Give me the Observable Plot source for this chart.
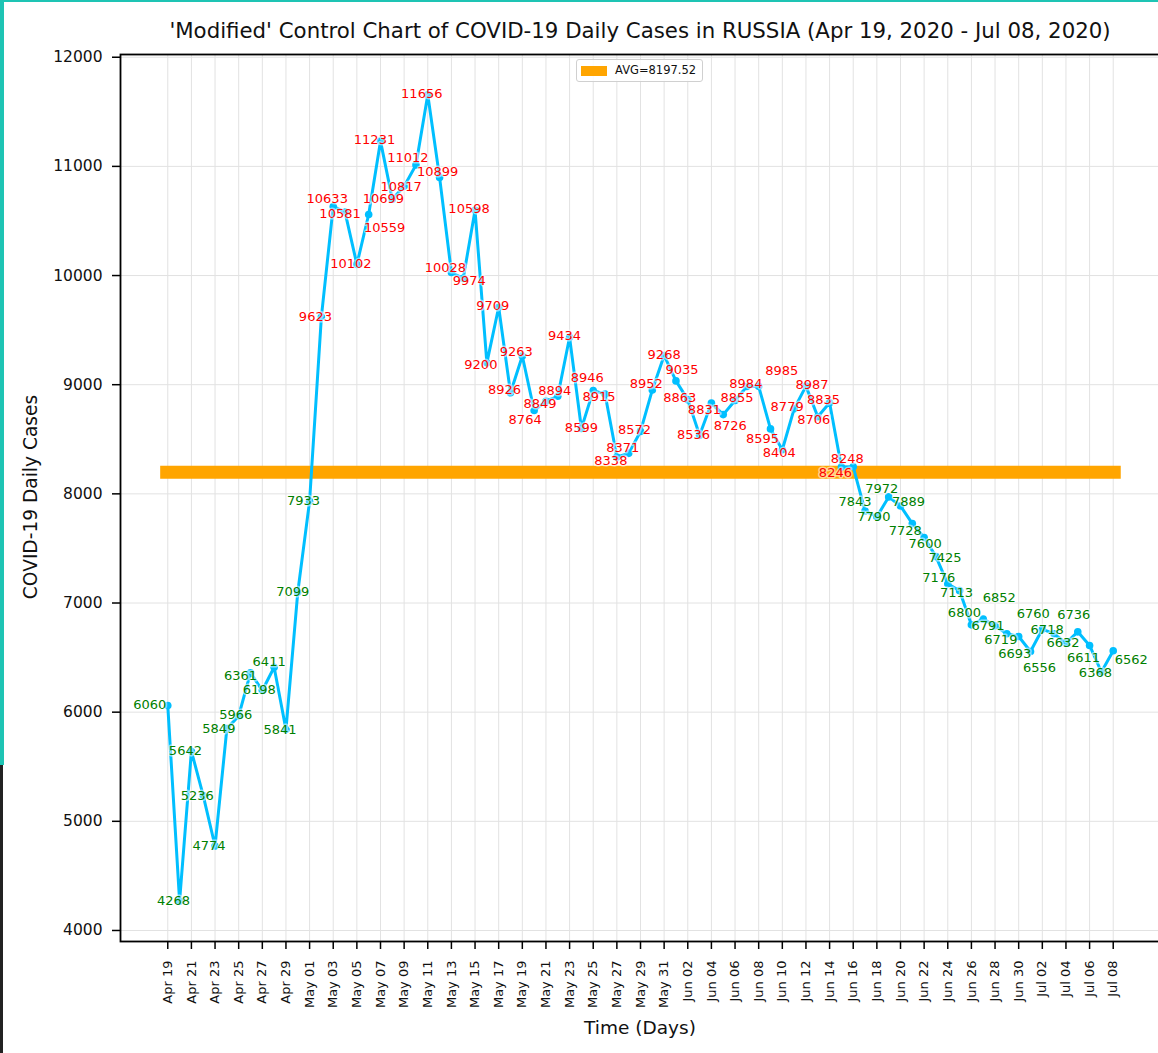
<!DOCTYPE html>
<html>
<head>
<meta charset="utf-8">
<script src="https://cdn.jsdelivr.net/npm/d3@7"></script>
<script src="https://cdn.jsdelivr.net/npm/@observablehq/plot@0.6"></script>
<style>
  html, body { margin: 0; padding: 0; background: #fff; }
  #wrap { position: relative; width: 1158px; height: 1053px; overflow: hidden; font-family: "DejaVu Sans", sans-serif; color: #111; }
  #title { position: absolute; left: 120px; width: 1040px; top: 18px; height: 26px; line-height: 26px; text-align: center; font-size: 21.3px; white-space: nowrap; }
  #chart { position: absolute; left: 0; top: 44px; }
  #ylabel { position: absolute; left: -169px; width: 400px; top: 486px; height: 22px; line-height: 22px; text-align: center; font-size: 18.6px; transform: rotate(-90deg); }
  #xlabel { position: absolute; left: 140px; width: 1000px; top: 1017px; height: 22px; line-height: 22px; text-align: center; font-size: 18.5px; }
  #legend { position: absolute; left: 576px; top: 59px; width: 125px; height: 21px; border: 1px solid #d0d0d0; border-radius: 3px; background: rgba(255,255,255,0.85); box-sizing: content-box; }
  #legend .sw { position: absolute; left: 4px; top: 6px; width: 26px; height: 10px; background: orange; }
  #legend .lt { position: absolute; left: 38px; top: 0; height: 21px; line-height: 21px; font-size: 11.5px; white-space: nowrap; }
  .edgeL1 { position: absolute; left: 0; top: 0; width: 4px; height: 765px; background: #1ec4b4; }
  .edgeL2 { position: absolute; left: 0; top: 765px; width: 3px; height: 288px; background: #222; }
  .edgeT { position: absolute; left: 0; top: 0; width: 1158px; height: 2px; background: #1ec4b4; }
</style>
</head>
<body>
<div id="wrap">
  <div id="title">'Modified' Control Chart of COVID-19 Daily Cases in RUSSIA (Apr 19, 2020 - Jul 08, 2020)</div>
  <div id="chart"></div>
  <div id="ylabel">COVID-19 Daily Cases</div>
  <div id="xlabel">Time (Days)</div>
  <div id="legend"><div class="sw"></div><div class="lt"></div></div>
  <div class="edgeL1"></div><div class="edgeL2"></div><div class="edgeT"></div>
</div>
<script>
// ---- data ----
const startDate = "2020-04-19";
const endDate = "2020-07-08";
const cases = [
  6060, 4268, 5642, 5236, 4774, 5849, 5966, 6361, 6198, 6411, 5841, 7099,           // Apr 19 - Apr 30
  7933, 9623, 10633, 10581, 10102, 10559, 11231, 10699, 10817, 11012, 11656, 10899, // May 01 - May 12
  10028, 9974, 10598, 9200, 9709, 8926, 9263, 8764, 8849, 8894, 9434, 8599,         // May 13 - May 24
  8946, 8915, 8338, 8371, 8572, 8952, 9268,                                         // May 25 - May 31
  9035, 8863, 8536, 8831, 8726, 8855, 8984, 8985, 8595, 8404, 8779, 8987,           // Jun 01 - Jun 12
  8706, 8835, 8246, 8248, 7843, 7790, 7972, 7889, 7728, 7600, 7425, 7176,           // Jun 13 - Jun 24
  7113, 6800, 6852, 6791, 6719, 6693,                                               // Jun 25 - Jun 30
  6556, 6760, 6718, 6632, 6736, 6611, 6368, 6562                                    // Jul 01 - Jul 08
];
const yTicks = [4000, 5000, 6000, 7000, 8000, 9000, 10000, 11000, 12000];

// ---- label placement (screen-pixel nudges, as spread out in the original) ----
const labelNudge = [
  [-18,-1],[-6,0],[-6,0],[-6,0],[-6,0],[-8,0],[-3,-1],[-10,3],[-3,-1],[-5,-5],[-6,0],[-5,0],
  [-6,0],[-6,0],[-6,-8],[-5,2],[-6,-1],[16,13],[-6,-1],[-9,0],[-3,0],[-8,-7],[-6,-1],[-2,-6],
  [-6,-5],[6,2],[-6,-1],[-6,2],[-6,-1],[-6,-3],[-6,-4],[-9,9],[-6,3],[-3,-5],[-5,-1],[0,-1],
  [-6,-13],[-6,3],[-6,4],[-6,-6],[-6,-2],[-6,-6],[0,-1],
  [6,-11],[-8,-2],[-6,-1],[-7,7],[7,11],[2,-3],[-1,-3],[23,-16],[-8,10],[-3,3],[-7,-2],[6,-1],
  [-4,3],[-6,-3],[-6,6],[-6,-8],[-10,-9],[-3,0],[-7,-8],[8,-4],[-7,7],[1,6],[9,1],[-9,-6],
  [-3,2],[-7,-12],[16,-21],[-7,0],[-6,6],[-4,17],
  [9,16],[-9,-15],[-7,-4],[-3,0],[-4,-17],[-6,12],[-6,1],[18,9]
];

// ---- layout ----
const W = 1158, H = 1009, mT = 10, mB = 112, mL = 120, mR = -2;
const xDomain = [new Date("2020-04-15"), new Date("2020-07-12")];
const yDomain = [3899, 12025];
const msPerPx = (xDomain[1] - xDomain[0]) / (W - mL - mR);
const valPerPx = (yDomain[1] - yDomain[0]) / (H - mT - mB);

// ---- derived ----
const dates = d3.utcDay.range(new Date(startDate), d3.utcDay.offset(new Date(endDate), 1));
const data = dates.map((d, i) => ({
  date: d, value: cases[i],
  lx: new Date(+d + labelNudge[i][0] * msPerPx),
  ly: cases[i] - labelNudge[i][1] * valPerPx
}));
const avg = d3.mean(cases);
const xTicks = dates.filter((d, i) => i % 2 === 0);
const hour = 3600 * 1000;
const avgStart = new Date(+dates[0] - 14.4 * hour);
const avgEnd = new Date(+dates[dates.length - 1] + 16.3 * hour);

document.querySelector("#legend .lt").textContent = `AVG=${avg.toFixed(2)}`;

const plot = Plot.plot({
  width: W,
  height: H,
  marginTop: mT,
  marginBottom: mB,
  marginLeft: mL,
  marginRight: mR,
  style: {fontFamily: "DejaVu Sans, sans-serif", background: "transparent", color: "#111", overflow: "visible"},
  x: {type: "utc", domain: xDomain},
  y: {domain: yDomain},
  marks: [
    Plot.gridX(xTicks, {stroke: "#e2e2e2", strokeOpacity: 1, strokeWidth: 1}),
    Plot.gridY(yTicks, {stroke: "#e2e2e2", strokeOpacity: 1, strokeWidth: 1}),
    Plot.ruleY([avg], {x1: () => avgStart, x2: () => avgEnd, stroke: "orange", strokeWidth: 13}),
    Plot.lineY(data, {x: "date", y: "value", stroke: "#00BFFF", strokeWidth: 3}),
    Plot.dot(data, {x: "date", y: "value", r: 3.8, fill: "#00BFFF"}),
    Plot.text(data, {
      x: "lx", y: "ly", text: d => String(d.value),
      fill: d => d.value > avg ? "red" : "green",
      fontSize: 13,
      stroke: "white", strokeOpacity: 0.55, strokeWidth: 3
    }),
    Plot.axisX(xTicks, {
      tickFormat: d3.utcFormat("%b %d"), tickRotate: -90, tickSize: 8, tickPadding: 11,
      fontSize: 13, label: null, stroke: "black", strokeWidth: 1.5
    }),
    Plot.axisY(yTicks, {
      tickFormat: d => String(d), tickSize: 8, tickPadding: 10,
      fontSize: 15.5, label: null, stroke: "black", strokeWidth: 1.5
    }),
    Plot.frame({stroke: "black", strokeWidth: 1.8})
  ]
});
document.getElementById("chart").appendChild(plot);
</script>
</body>
</html>
